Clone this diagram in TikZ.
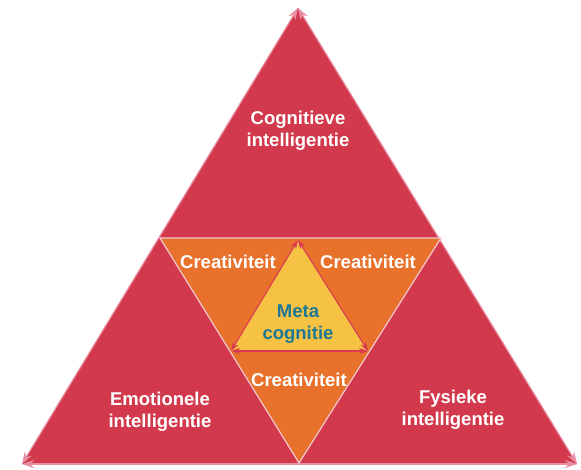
\documentclass[tikz,border=0pt]{standalone}
\usepackage{fontspec}
\setmainfont{Liberation Sans}
\usetikzlibrary{arrows.meta}
\definecolor{bigred}{HTML}{D2394C}
\definecolor{edgepink}{HTML}{E98DA2}
\definecolor{midorange}{HTML}{E8722B}
\definecolor{inyellow}{HTML}{F6C244}
\definecolor{arrred}{HTML}{D93A52}
\definecolor{tealtext}{HTML}{1D7896}
\tikzset{
  lbl/.style={text=white,font=\bfseries\fontsize{18.5}{22}\selectfont,align=center,inner sep=0pt},
  metalbl/.style={text=tealtext,font=\bfseries\fontsize{18.5}{22}\selectfont,align=center,inner sep=0pt},
  outedge/.style={draw=edgepink,line width=1.2pt,{Stealth[length=12pt,width=8pt]}-{Stealth[length=12pt,width=8pt]}},
  inedge/.style={draw=arrred,line width=1.1pt,{Stealth[length=9pt,width=6pt]}-{Stealth[length=9pt,width=6pt]}}
}
\begin{document}
\begin{tikzpicture}[x=1pt,y=-1pt]
\useasboundingbox (0,0) rectangle (581,470);
\coordinate (A) at (298,8);
\coordinate (B) at (22,464);
\coordinate (C) at (577,464);
\fill[bigred] (A) -- (B) -- (C) -- cycle;
\draw[outedge] (A) -- (B);
\draw[outedge] (B) -- (C);
\draw[outedge] (C) -- (A);
\coordinate (P) at (160,238);
\coordinate (Q) at (441,238);
\coordinate (R) at (299,463);
\fill[midorange,draw=edgepink!50!white,line width=1.2pt] (P) -- (Q) -- (R) -- cycle;
\coordinate (X) at (298,240);
\coordinate (Y) at (231,351);
\coordinate (Z) at (368,351);
\fill[inyellow] (X) -- (Y) -- (Z) -- cycle;
\draw[inedge] (X) -- (Y);
\draw[inedge] (Y) -- (Z);
\draw[inedge] (Z) -- (X);
\node[lbl] (cog) at (298,131) {Cognitieve\\intelligentie};
\node[lbl] (emo) at (160,412) {Emotionele\\intelligentie};
\node[lbl] (fys) at (453,410) {Fysieke\\intelligentie};
\node[lbl] (c1) at (228,262) {Creativiteit};
\node[lbl] (c2) at (368,262) {Creativiteit};
\node[lbl] (c3) at (299,380) {Creativiteit};
\node[metalbl] (meta) at (298,324) {Meta\\cognitie};
\end{tikzpicture}
\end{document}
